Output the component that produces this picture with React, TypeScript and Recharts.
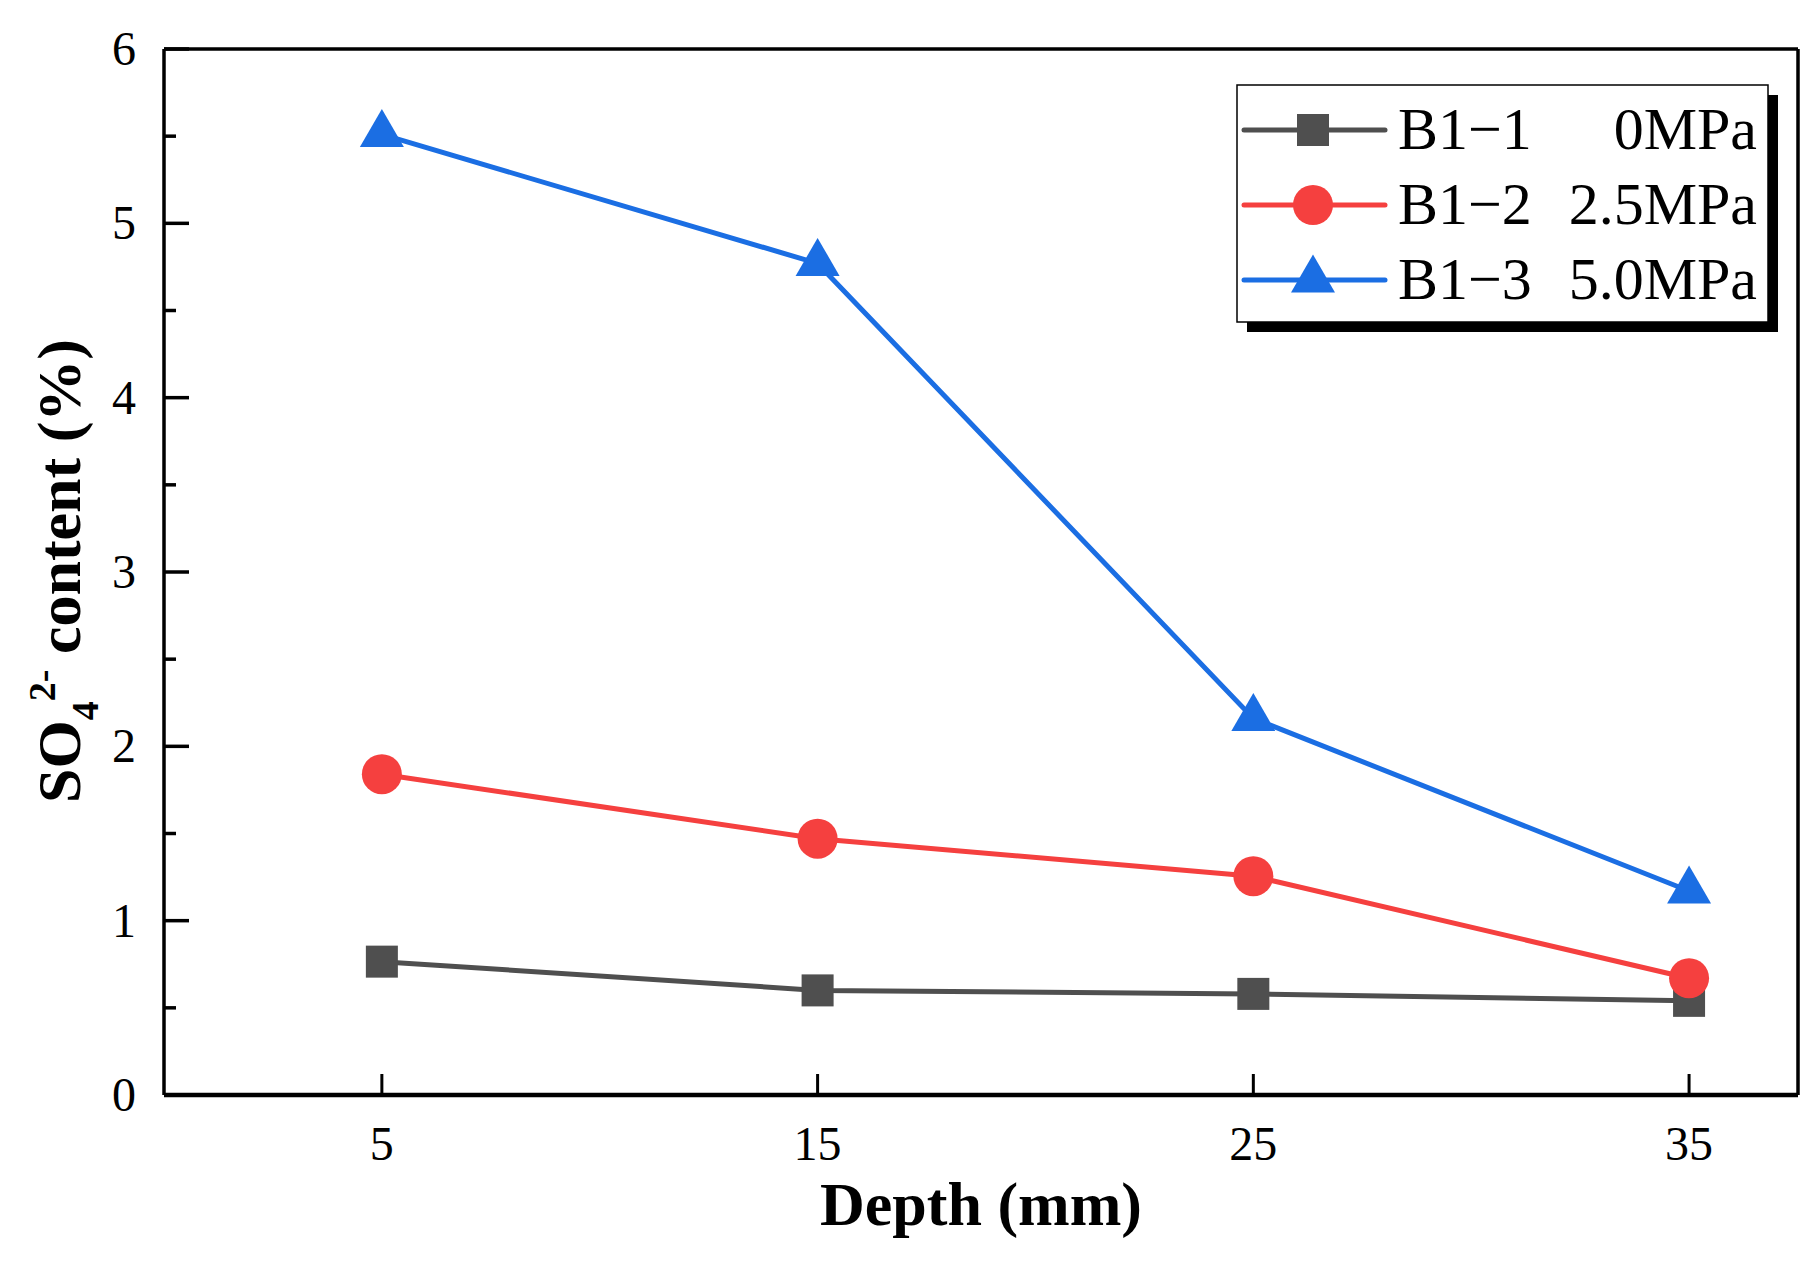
import { Legend, Line, LineChart, ReferenceLine, XAxis, YAxis } from "recharts";

const depths = [5, 15, 25, 35];
const b1_1 = [0.765, 0.6, 0.58, 0.54];
const b1_2 = [1.84, 1.47, 1.255, 0.67];
const b1_3 = [5.51, 4.77, 2.16, 1.17];

const sampleNames = ["B1−1", "B1−2", "B1−3"];
const pressures = ["0MPa", "2.5MPa", "5.0MPa"];
const seriesKeys = ["s1", "s2", "s3"];
const seriesColors = ["#4f4f4f", "#f5403f", "#1b6ee3"];
const seriesShapes = ["square", "circle", "triangle"];

const xTicks = [5, 15, 25, 35];
const yTicks = [0, 0.5, 1, 1.5, 2, 2.5, 3, 3.5, 4, 4.5, 5, 5.5, 6];

const data = depths.map((depth, i) => ({
  depth,
  s1: b1_1[i],
  s2: b1_2[i],
  s3: b1_3[i],
}));

const FONT = "'Liberation Serif', 'Times New Roman', serif";
const W = 1815;
const H = 1266;

function Marker({ cx, cy, shape, color }: { cx: number; cy: number; shape: string; color: string }) {
  if (shape === "square") {
    return <rect x={cx - 16} y={cy - 16} width={32} height={32} fill={color} />;
  }
  if (shape === "circle") {
    return <circle cx={cx} cy={cy} r={20} fill={color} />;
  }
  // triangle, centroid on the point
  return (
    <polygon
      points={`${cx},${cy - 25.5} ${cx - 22},${cy + 12.5} ${cx + 22},${cy + 12.5}`}
      fill={color}
    />
  );
}

function XTick({ x, y, payload }: any) {
  return (
    <g>
      <line x1={x} x2={x} y1={y} y2={y - 21} stroke="#000" strokeWidth={3} />
      <text x={x} y={y + 65} textAnchor="middle" fontFamily={FONT} fontSize={48} fill="#000">
        {payload.value}
      </text>
    </g>
  );
}

function YTick({ x, y, payload }: any) {
  const major = Number.isInteger(payload.value);
  return (
    <g>
      <line x1={x} x2={x + (major ? 25 : 12)} y1={y} y2={y} stroke="#000" strokeWidth={3.5} />
      {major && (
        <text x={x - 28} y={y + 16} textAnchor="end" fontFamily={FONT} fontSize={48} fill="#000">
          {payload.value}
        </text>
      )}
    </g>
  );
}

function YLabel() {
  const x = 80;
  const y = 571;
  return (
    <text
      x={x}
      y={y}
      transform={`rotate(-90 ${x} ${y})`}
      textAnchor="middle"
      fontFamily={FONT}
      fontWeight="bold"
      fontSize={62}
      fill="#000"
    >
      SO
      <tspan fontSize={38} dy={18}>4</tspan>
      <tspan fontSize={38} dy={-43}>2-</tspan>
      <tspan dy={25}> content (%)</tspan>
    </text>
  );
}

function XLabel() {
  return (
    <text x={981} y={1225} textAnchor="middle" fontFamily={FONT} fontWeight="bold" fontSize={62} fill="#000">
      Depth (mm)
    </text>
  );
}

function LegendBox({ payload }: any) {
  const items = payload || [];
  return (
    <svg width={552} height={252} style={{ display: "block" }}>
      <rect x={11} y={11} width={531} height={237} fill="#000" />
      <rect x={1} y={1} width={531} height={237} fill="#fff" stroke="#000" strokeWidth={1.5} />
      {items.map((entry: any, i: number) => {
        const cy = 46 + i * 75;
        return (
          <g key={i}>
            <line x1={8} x2={149} y1={cy} y2={cy} stroke={entry.color} strokeWidth={5} strokeLinecap="round" />
            <Marker cx={77} cy={cy} shape={seriesShapes[i]} color={entry.color} />
            <text x={162} y={cy + 19} fontFamily={FONT} fontSize={60} fill="#000">
              {sampleNames[i]}
            </text>
            <text x={521} y={cy + 19} textAnchor="end" fontFamily={FONT} fontSize={60} fill="#000">
              {pressures[i]}
            </text>
          </g>
        );
      })}
    </svg>
  );
}

export default function App() {
  return (
    <div style={{ position: "absolute", left: 0, top: 0, width: W, height: H, background: "#fff" }}>
      <LineChart width={W} height={H} data={data} margin={{ top: 49, right: 17, left: 0, bottom: 0 }}>
        <XAxis
          dataKey="depth"
          type="number"
          domain={[0, 37.5]}
          ticks={xTicks}
          interval={0}
          allowDataOverflow
          height={171}
          tickSize={0}
          tickMargin={0}
          tickLine={false}
          axisLine={{ stroke: "#000", strokeWidth: 4.5 }}
          tick={(p: any) => <XTick {...p} />}
          label={{ content: () => <XLabel /> }}
        />
        <YAxis
          type="number"
          domain={[0, 6]}
          ticks={yTicks}
          interval={0}
          allowDataOverflow
          width={164}
          tickSize={0}
          tickMargin={0}
          tickLine={false}
          axisLine={{ stroke: "#000", strokeWidth: 3.5 }}
          tick={(p: any) => <YTick {...p} />}
          label={{ content: () => <YLabel /> }}
        />
        <ReferenceLine y={6} stroke="#000" strokeWidth={3.5} />
        <ReferenceLine x={37.5} stroke="#000" strokeWidth={3.5} />
        <Legend
          layout="vertical"
          align="center"
          verticalAlign="middle"
          wrapperStyle={{ left: 1236, top: 84, width: 552, height: 252 }}
          content={(props: any) => <LegendBox payload={props.payload} />}
        />
        {seriesKeys.map((key, i) => (
          <Line
            key={key}
            type="linear"
            dataKey={key}
            name={`${sampleNames[i]} ${pressures[i]}`}
            stroke={seriesColors[i]}
            strokeWidth={5}
            isAnimationActive={false}
            activeDot={false}
            dot={(p: any) => (
              <Marker key={`${key}-${p.index}`} cx={p.cx} cy={p.cy} shape={seriesShapes[i]} color={seriesColors[i]} />
            )}
          />
        ))}
      </LineChart>
    </div>
  );
}
